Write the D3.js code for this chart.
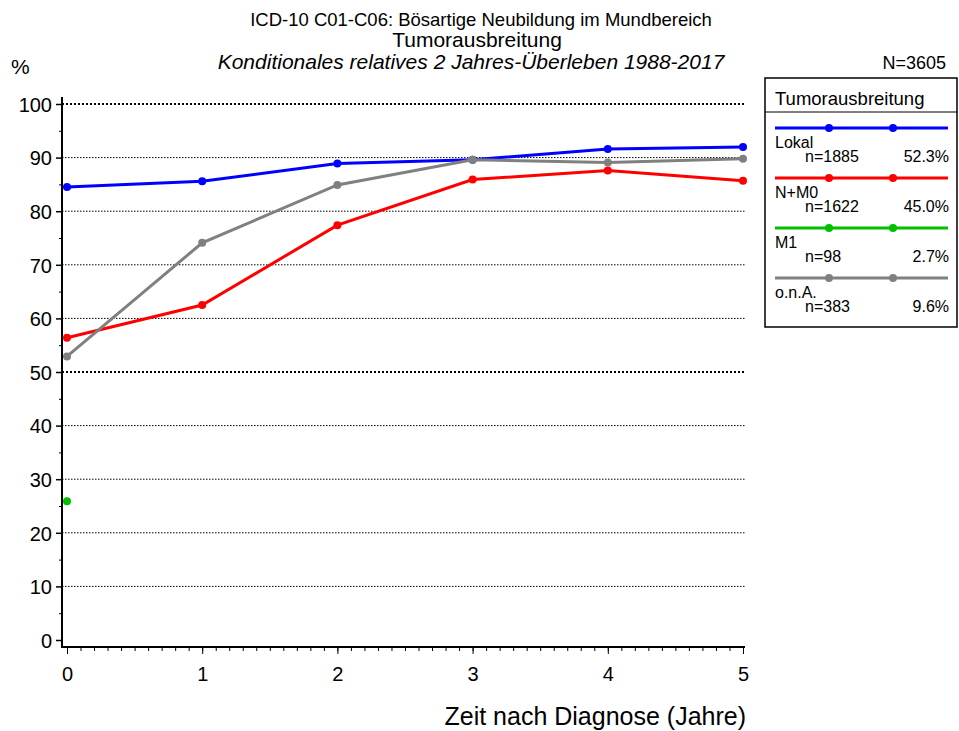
<!DOCTYPE html>
<html>
<head>
<meta charset="utf-8">
<script src="https://cdn.jsdelivr.net/npm/d3@7/dist/d3.min.js"></script>
<style>
  body { margin: 0; background: #fff; }
  text { font-family: "Liberation Sans", Arial, sans-serif; fill: #000; }
</style>
</head>
<body>
<div id="chart"></div>
<script>
// data
var years = [0, 1, 2, 3, 4, 5];
var lokal = [84.5, 85.6, 88.9, 89.6, 91.6, 92.0];
var nm0 = [56.4, 62.5, 77.4, 85.9, 87.6, 85.7];
var m1 = [25.9, null, null, null, null, null];
var ona = [52.9, 74.1, 84.9, 89.6, 89.1, 89.8];
var yTicks = [0, 10, 20, 30, 40, 50, 60, 70, 80, 90, 100];
var seriesNames = ["Lokal", "N+M0", "M1", "o.n.A."];
var seriesN = ["n=1885", "n=1622", "n=98", "n=383"];
var seriesPct = ["52.3%", "45.0%", "2.7%", "9.6%"];
var seriesColors = ["#0000ff", "#ff0000", "#00c000", "#808080"];

var svgWidth = 959;
var svgHeight = 731;

var svg = d3.select("#chart")
    .append("svg")
    .attr("width", svgWidth)
    .attr("height", svgHeight);

// scales
var x = d3.scaleLinear().domain([0, 5]).range([67, 743]);
var y = d3.scaleLinear().domain([0, 100]).range([640, 104]);

// titles
svg.append("text").attr("x", 481).attr("y", 26)
    .attr("text-anchor", "middle").style("font-size", "18.5px")
    .text("ICD-10 C01-C06: Bösartige Neubildung im Mundbereich");
svg.append("text").attr("x", 477).attr("y", 47)
    .attr("text-anchor", "middle").style("font-size", "21px")
    .text("Tumorausbreitung");
svg.append("text").attr("x", 471).attr("y", 69)
    .attr("text-anchor", "middle").style("font-size", "21px")
    .style("font-style", "italic")
    .text("Konditionales relatives 2 Jahres-Überleben 1988-2017");
svg.append("text").attr("x", 11).attr("y", 74)
    .style("font-size", "21px").text("%");
svg.append("text").attr("x", 946).attr("y", 69)
    .attr("text-anchor", "end").style("font-size", "18px").text("N=3605");

// gridlines
svg.append("g").selectAll("line")
    .data(yTicks.filter(d => d > 0))
    .enter().append("line")
    .attr("x1", 62).attr("x2", 746)
    .attr("y1", d => y(d)).attr("y2", d => y(d))
    .attr("stroke", "#000")
    .attr("stroke-width", d => (d == 100 || d == 50) ? 2 : 1)
    .attr("stroke-dasharray", d => (d == 100 || d == 50) ? "2,2" : "1.5,1.5");

// y axis
var yAxis = d3.axisLeft(y).tickValues(yTicks).tickSize(6).tickPadding(4);
var gy = svg.append("g").attr("transform", "translate(62,0)").call(yAxis);
gy.select(".domain").remove();
gy.selectAll("text").style("font-size", "20px").attr("dy", "0.36em");
gy.selectAll(".tick line").attr("stroke-width", 1.5);
svg.append("g").attr("transform", "translate(62,0)")
    .call(d3.axisLeft(y).tickValues(d3.range(5, 100, 10)).tickSize(3).tickFormat(""))
    .select(".domain").remove();
svg.append("line").attr("x1", 62).attr("x2", 62).attr("y1", 97).attr("y2", 648)
    .attr("stroke", "#000").attr("stroke-width", 2);

// x axis
var xAxis = d3.axisBottom(x).tickValues(years).tickSize(7).tickPadding(13)
    .tickFormat(d3.format("d"));
var gx = svg.append("g").attr("transform", "translate(0,647)").call(xAxis);
gx.select(".domain").remove();
gx.selectAll("text").style("font-size", "20px");
svg.append("g").attr("transform", "translate(0,647)")
    .call(d3.axisBottom(x).tickValues(d3.range(0, 50).map(d => d / 10)).tickSize(4).tickFormat(""))
    .select(".domain").remove();
svg.append("line").attr("x1", 62).attr("x2", 745).attr("y1", 647).attr("y2", 647)
    .attr("stroke", "#000").attr("stroke-width", 2);

svg.append("text").attr("x", 746).attr("y", 725)
    .attr("text-anchor", "end").style("font-size", "25px")
    .text("Zeit nach Diagnose (Jahre)");

// series
var allSeries = [lokal, nm0, m1, ona];
var line = d3.line()
    .defined(d => d != null)
    .x((d, i) => x(years[i]))
    .y(d => y(d));

allSeries.forEach(function(vals, k) {
    svg.append("path")
        .attr("d", line(vals))
        .attr("fill", "none")
        .attr("stroke", seriesColors[k])
        .attr("stroke-width", 3);
    svg.append("g").selectAll("circle")
        .data(vals.map((v, i) => ({ v: v, i: i })).filter(d => d.v != null))
        .enter().append("circle")
        .attr("cx", d => x(years[d.i]))
        .attr("cy", d => y(d.v))
        .attr("r", 4)
        .attr("fill", seriesColors[k]);
});

// legend
var lg = svg.append("g");
lg.append("rect").attr("x", 765).attr("y", 78).attr("width", 192).attr("height", 249)
    .attr("fill", "none").attr("stroke", "#000").attr("stroke-width", 1.5);
lg.append("line").attr("x1", 765).attr("x2", 957).attr("y1", 112).attr("y2", 112)
    .attr("stroke", "#000").attr("stroke-width", 1);
lg.append("text").attr("x", 775).attr("y", 105).style("font-size", "18.5px")
    .text("Tumorausbreitung");

seriesNames.forEach(function(name, k) {
    var ly = 128 + k * 50;
    lg.append("line").attr("x1", 775).attr("x2", 948).attr("y1", ly).attr("y2", ly)
        .attr("stroke", seriesColors[k]).attr("stroke-width", 3);
    [829, 893].forEach(function(cx) {
        lg.append("circle").attr("cx", cx).attr("cy", ly).attr("r", 4)
            .attr("fill", seriesColors[k]);
    });
    lg.append("text").attr("x", 775).attr("y", ly + 20).style("font-size", "16px").text(name);
    lg.append("text").attr("x", 805).attr("y", ly + 34).style("font-size", "16px").text(seriesN[k]);
    lg.append("text").attr("x", 949).attr("y", ly + 34).attr("text-anchor", "end")
        .style("font-size", "16px").text(seriesPct[k]);
});
</script>
</body>
</html>
